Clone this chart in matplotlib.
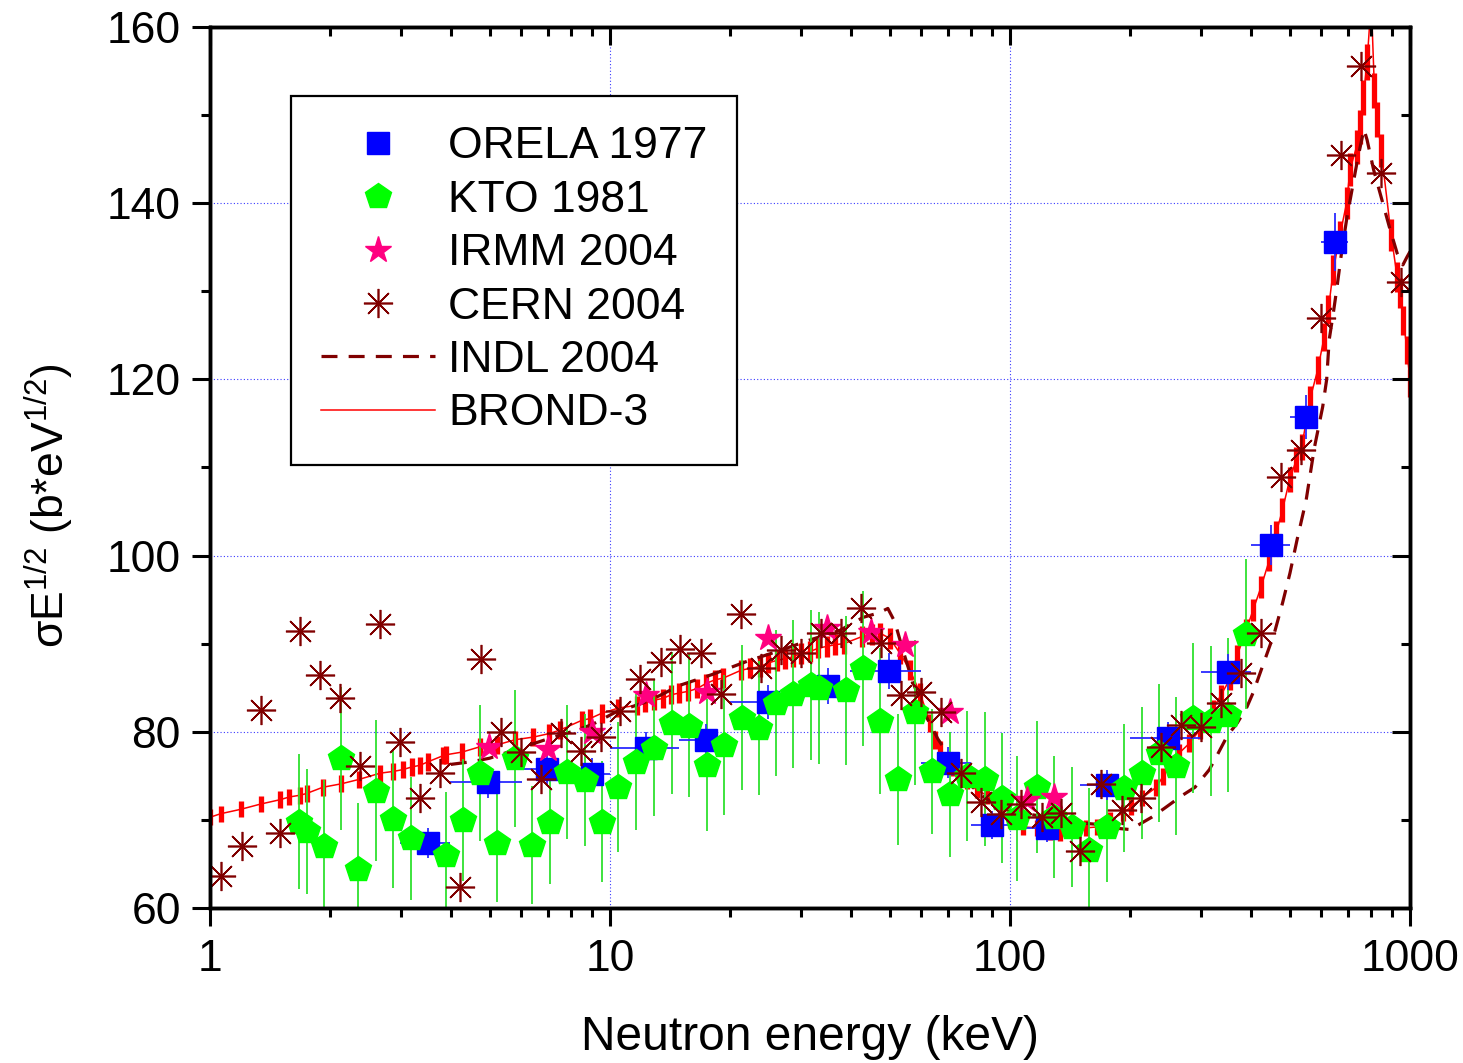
import numpy as np
import matplotlib
matplotlib.use("Agg")
import matplotlib.pyplot as plt
from matplotlib.lines import Line2D
from matplotlib.ticker import LogLocator, NullFormatter, FixedLocator, MultipleLocator

plt.rcParams['font.family'] = ['Liberation Sans', 'DejaVu Sans']
plt.rcParams['mathtext.fontset'] = 'custom'
plt.rcParams['mathtext.rm'] = 'Liberation Sans'
plt.rcParams['mathtext.it'] = 'Liberation Sans:italic'

# ---------------- data ----------------
# ORELA 1977
orela_e = [3.51, 4.95, 6.96, 9.02, 12.3, 17.4, 24.8, 35.1, 49.8, 70.0, 90.2, 123.8, 174.8, 248, 351, 449, 550, 649]
orela_y = [67.4, 74.3, 75.8, 75.2, 78.2, 79.1, 83.4, 85.2, 86.9, 76.5, 69.4, 69.1, 74.0, 79.3, 86.8, 101.2, 115.7, 135.6]
orela_elo = [2.99, 3.98, 6.03, 8.4, 10.0, 14.9, 20.0, 30.0, 39.8, 60.0, 80.0, 106, 150, 200, 300, 400, 500, 600]
orela_ehi = [3.98, 6.03, 8.3, 10.0, 14.9, 20.0, 30.0, 39.0, 60.0, 80.0, 106, 150, 192, 300, 400, 500, 585, 700]
orela_yerr = [1.7, 1.8, 1.8, 1.8, 1.8, 1.8, 1.9, 2.0, 2.0, 1.8, 1.6, 1.6, 1.7, 1.8, 2.0, 2.3, 2.5, 3.3]

# KTO 1981
kto_e = [1.67, 1.75, 1.93, 2.13, 2.34, 2.60, 2.87, 3.18, 3.89, 4.29, 4.73, 5.22, 5.79, 6.38, 7.08,
         7.81, 8.66, 9.55, 10.5, 11.6, 12.9, 14.3, 15.8, 17.5, 19.3, 21.4, 23.6, 26.0, 28.7, 31.8,
         33.3, 38.9, 42.9, 47.3, 52.5, 57.9, 63.8, 70.8, 78.1, 86.6, 95.5, 104, 117, 129, 143,
         158, 175, 193, 214, 236, 260, 287, 318, 351, 389]
kto_y = [69.8, 68.7, 67.0, 77.0, 64.4, 73.3, 70.1, 67.9, 66.0, 70.0, 75.3, 67.4, 77.0, 67.2, 69.8,
         75.4, 74.5, 69.8, 73.7, 76.6, 78.2, 81.0, 80.7, 76.2, 78.5, 81.6, 80.4, 83.3, 84.3, 85.3,
         85.0, 84.7, 87.2, 81.2, 74.6, 82.2, 75.5, 72.9, 75.0, 74.6, 72.5, 70.2, 73.7, 70.3, 69.2,
         66.6, 69.2, 73.6, 75.3, 77.6, 76.1, 81.6, 81.2, 81.9, 91.1]
kto_yerr = [7.7, 7.1, 7.5, 8.1, 7.5, 8.0, 7.8, 7.0, 7.2, 6.9, 7.7, 6.7, 7.8, 6.7, 7.1,
            7.6, 7.5, 6.9, 7.4, 7.7, 7.8, 8.1, 8.1, 7.5, 7.9, 8.2, 7.6, 8.3, 8.4, 8.5,
            8.6, 8.5, 8.8, 8.3, 7.4, 8.2, 7.1, 7.1, 7.4, 7.6, 7.4, 7.1, 7.5, 6.9, 6.8,
            7.0, 6.2, 7.3, 7.5, 7.8, 7.8, 8.5, 8.5, 8.7, 8.5]

# IRMM 2004
irmm_e = [4.98, 7.0, 9.0, 12.3, 17.5, 24.9, 34.9, 45.0, 54.6, 70.8, 110, 129]
irmm_y = [78.3, 78.0, 80.0, 84.2, 84.5, 90.6, 91.8, 91.3, 89.9, 82.2, 72.3, 72.6]

# CERN 2004
cern_e = [1.065, 1.20, 1.34, 1.50, 1.68, 1.88, 2.11, 2.37, 2.66, 2.99, 3.35, 3.76, 4.22, 4.76,
          5.34, 5.99, 6.72, 7.54, 8.46, 9.5, 10.6, 11.9, 13.4, 15.0, 16.9, 18.9, 21.3, 23.8,
          26.8, 30.0, 33.7, 37.8, 42.4, 47.6, 53.4, 59.9, 67.2, 75.4, 84.6, 95.0, 106.5, 120,
          134, 150, 169, 190, 213, 238, 268, 300, 337, 378, 424, 476, 534, 599, 672, 754, 846, 949]
cern_y = [63.6, 67.0, 82.5, 68.5, 91.4, 86.4, 83.8, 76.1, 92.2, 78.8, 72.5, 75.3, 62.4, 88.3,
          80.0, 77.7, 74.6, 79.9, 77.8, 79.4, 82.4, 86.0, 87.9, 89.4, 88.9, 84.3, 93.4, 87.2,
          89.3, 89.0, 91.2, 91.2, 94.0, 90.1, 84.2, 84.5, 82.2, 75.3, 72.0, 70.7, 71.8, 70.3,
          70.8, 66.5, 74.1, 71.1, 72.5, 78.3, 80.8, 80.5, 83.3, 86.7, 91.2, 108.9, 112.0, 127.0,
          145.5, 155.6, 143.4, 131.1]

# INDL 2004
indl_e = [4.0, 4.5, 5.0, 6.0, 7.0, 8.0, 9.0, 10.3, 12.5, 15.0, 18.0, 22.0, 26.5, 31.5, 37.5,
          43.0, 47.0, 49.5, 51.5, 53.8, 56.8, 61.3, 66.0, 72.0, 78.0, 86.0, 95.0, 105, 117, 130,
          155, 165, 180, 200, 226, 243, 270, 290, 315, 330, 350, 370, 391, 405, 433, 458, 480,
          501, 522, 550, 577, 605, 619, 628, 643, 657, 674, 694, 718, 739, 767, 781, 811, 841,
          888, 929, 960, 983, 1000]
indl_y = [76.3, 76.6, 77.0, 78.2, 79.2, 80.0, 80.8, 82.2, 83.5, 85.3, 86.5, 88.0, 89.2, 90.4, 91.5,
          93.0, 93.5, 94.0, 92.5, 89.5, 86.0, 82.0, 79.2, 76.6, 74.3, 72.6, 71.3, 70.8, 70.5, 70.1,
          69.6, 69.5, 69.1, 68.9, 70.3, 71.3, 72.8, 73.7, 75.7, 77.4, 79.6, 81.0, 82.8, 84.4, 88.1,
          91.2, 94.6, 98.0, 101.8, 106.3, 112.3, 116.9, 120.0, 124.5, 127.5, 130.5, 134.3, 138.1,
          141.8, 144.9, 148.4, 147.2, 143.8, 141.2, 137.3, 134.3, 133.0, 133.9, 134.5]

# BROND-3
brond_e = [1.0, 1.063, 1.193, 1.339, 1.499, 1.578, 1.679, 1.744, 1.913, 2.131, 2.36, 2.66, 2.87,
           3.03, 3.19, 3.35, 3.51, 3.83, 3.9, 4.27, 4.73, 5.21, 5.79, 6.43, 7.05, 7.5, 8.5, 8.91,
           9.53, 10.5, 11.67, 12.2, 12.9, 13.6, 14.2, 14.9, 15.7, 16.5, 17.4, 18.3, 19.2, 21.3,
           22.4, 23.7, 24.8, 26.1, 27.4, 28.7, 30.1, 31.6, 33.2, 34.9, 36.6, 38.4, 42.6, 45.1,
           47.3, 50.1, 53.1, 56.2, 59.6, 63.1, 65.0, 66.8, 72.0, 78.0, 82.5, 87.5, 94.4, 100,
           108, 117, 126, 133, 144, 155, 165, 178, 192, 201, 214, 232, 241, 251, 265, 281, 298,
           321, 337, 354, 370, 390, 405, 424, 445, 463, 480, 500, 520, 536, 562, 588, 610, 625,
           643, 667, 694, 708, 735, 750, 764, 781, 800, 815, 828, 847, 897, 929, 944, 963, 983, 1000]
brond_y = [70.3, 70.7, 71.2, 71.8, 72.3, 72.6, 72.8, 73.0, 73.7, 74.1, 74.6, 75.3, 75.5,
           75.7, 76.0, 76.2, 76.6, 77.3, 77.4, 77.7, 78.3, 78.5, 79.1, 79.4, 79.8, 80.2, 81.3, 81.5,
           82.1, 82.7, 83.0, 83.3, 83.6, 83.8, 84.2, 84.4, 84.6, 84.9, 85.5, 85.9, 86.1, 87.0,
           87.2, 87.4, 87.8, 88.1, 88.3, 88.5, 88.9, 89.1, 89.5, 89.7, 89.9, 90.0, 90.8, 91.0,
           91.2, 90.6, 88.9, 87.0, 84.4, 81.0, 79.1, 77.9, 76.0, 74.5, 73.4, 72.8, 71.5, 70.0,
           69.2, 69.1, 68.6, 68.5, 68.9, 69.1, 69.2, 70.0, 70.8, 71.5, 72.5, 73.7, 74.9, 76.0, 77.6,
           78.7, 80.2, 82.5, 84.2, 85.9, 88.7, 91.6, 93.8, 96.4, 99.5, 102.6, 105.2, 108.6, 110.9,
           112.3, 117.7, 121.1, 124.8, 127.9, 132.4, 136.2, 140.0, 143.8, 146.4, 148.7, 152.0,
           156.0, 163.0, 152.8, 149.5, 146.0, 136.4, 131.6, 129.8, 126.7, 123.3, 119.6]
brond_rel_err = 0.013

labels = ['ORELA 1977', 'KTO 1981', 'IRMM 2004', 'CERN 2004', 'INDL 2004', 'BROND-3']
x_ticks = [1, 10, 100, 1000]
x_ticklabels = ['1', '10', '100', '1000']
y_ticks = [60, 80, 100, 120, 140, 160]

# ---------------- figure ----------------
W, H = 1463, 1063
fig = plt.figure(figsize=(W / 100, H / 100), dpi=100)
ax = fig.add_axes([210 / W, 1 - 908 / H, 1200 / W, 881 / H])
ax.set_xscale('log')
ax.set_xlim(1, 1000)
ax.set_ylim(60, 160)

# grid
ax.grid(True, which='major', color='#3a3aff', linestyle=(0, (1, 2)), linewidth=0.8, zorder=0)

# BROND-3
be = np.array(brond_e)
by = np.array(brond_y)
ax.errorbar(be, by, yerr=by * brond_rel_err, fmt='none', ecolor='#ff0000', elinewidth=3.8,
            capsize=0, zorder=2)
ax.plot(be, by, color='#ff0000', lw=1.1, zorder=2.1)

# INDL
ax.plot(indl_e, indl_y, color='#800000', lw=2.3, dashes=(5, 3.5), zorder=2.2)

# KTO error bars
ax.errorbar(kto_e, kto_y, yerr=kto_yerr, fmt='none', ecolor='#2ee02e', elinewidth=1.3,
            capsize=0, zorder=2.5)

# ORELA
oe = np.array(orela_e)
xerr = [oe - np.array(orela_elo), np.array(orela_ehi) - oe]
ax.errorbar(oe, orela_y, xerr=xerr, yerr=orela_yerr, fmt='none', ecolor='#2a2aff',
            elinewidth=1.3, capsize=0, zorder=3)
ax.plot(oe, orela_y, ls='none', marker='s', ms=15.5, color='#0000ff', mec='#0000ff', zorder=3.1)

# KTO markers
ax.plot(kto_e, kto_y, ls='none', marker='p', ms=19, color='#00ff00', mec='#00ff00', zorder=3.5)

# IRMM
ax.plot(irmm_e, irmm_y, ls='none', marker='*', ms=20, color='#ff0080', mec='#ff0080', zorder=4)

# CERN
ax.plot(cern_e, cern_y, ls='none', marker=(8, 2, 0), ms=21, color='#800000', mec='#800000',
        mew=1.2, zorder=4.5)

# ticks (outward on bottom/left)
ax.xaxis.set_major_locator(FixedLocator(x_ticks))
ax.set_xticklabels(x_ticklabels)
ax.xaxis.set_minor_locator(LogLocator(base=10, subs=np.arange(2, 10)))
ax.xaxis.set_minor_formatter(NullFormatter())
ax.set_yticks(y_ticks)
ax.yaxis.set_minor_locator(MultipleLocator(10))
ax.tick_params(which='major', direction='out', length=13, width=2.2, labelsize=32, pad=8)
ax.tick_params(which='minor', direction='out', length=6.5, width=2.2)
ax.tick_params(axis='x', which='major', pad=9)
for s in ax.spines.values():
    s.set_linewidth(2.4)

# inward ticks on top / right
axt = ax.twiny()
axt.set_xscale('log')
axt.set_xlim(ax.get_xlim())
axt.xaxis.set_major_locator(FixedLocator(x_ticks))
axt.xaxis.set_minor_locator(LogLocator(base=10, subs=np.arange(2, 10)))
axt.xaxis.set_minor_formatter(NullFormatter())
axt.tick_params(axis='x', which='major', direction='in', length=13, width=2.2, labeltop=False)
axt.tick_params(axis='x', which='minor', direction='in', length=6.5, width=2.2)
axt.tick_params(axis='y', left=False, right=False, labelleft=False, labelright=False)

axr = ax.twinx()
axr.set_ylim(ax.get_ylim())
axr.set_yticks(y_ticks)
axr.yaxis.set_minor_locator(MultipleLocator(10))
axr.tick_params(axis='y', which='major', direction='in', length=13, width=2.2, labelright=False)
axr.tick_params(axis='y', which='minor', direction='in', length=6.5, width=2.2)
axr.tick_params(axis='x', top=False, bottom=False, labeltop=False, labelbottom=False)
for a in (axt, axr):
    for s in a.spines.values():
        s.set_linewidth(2.4)
    a.patch.set_visible(False)

ax.set_xlabel('Neutron energy (keV)', fontsize=34.5)
ax.xaxis.set_label_coords(0.5, -0.122)
ax.set_ylabel(r'σE$^{\mathregular{1/2}}$ (b*eV$^{\mathregular{1/2}}$)', fontsize=32)
ax.yaxis.set_label_coords(-0.112, 0.457)

# legend
handles = [
    Line2D([], [], ls='none', marker='s', ms=15.5, color='#0000ff'),
    Line2D([], [], ls='none', marker='p', ms=19, color='#00ff00'),
    Line2D([], [], ls='none', marker='*', ms=20, color='#ff0080'),
    Line2D([], [], ls='none', marker=(8, 2, 0), ms=21, color='#800000', mew=1.2),
    Line2D([], [], color='#800000', lw=2.3, dashes=(5, 3.5)),
    Line2D([], [], color='#ff0000', lw=1.1),
]
leg = axr.legend(handles, labels, loc='upper left', bbox_to_anchor=(81 / 1200, 1 - 69 / 881),
                 fontsize=32, frameon=True, fancybox=False, framealpha=1, edgecolor='black',
                 borderpad=0.68, labelspacing=0.28, handlelength=2.55, handletextpad=0.3,
                 borderaxespad=0)
leg.get_frame().set_linewidth(1.6)

fig.savefig('out.png', dpi=100)
